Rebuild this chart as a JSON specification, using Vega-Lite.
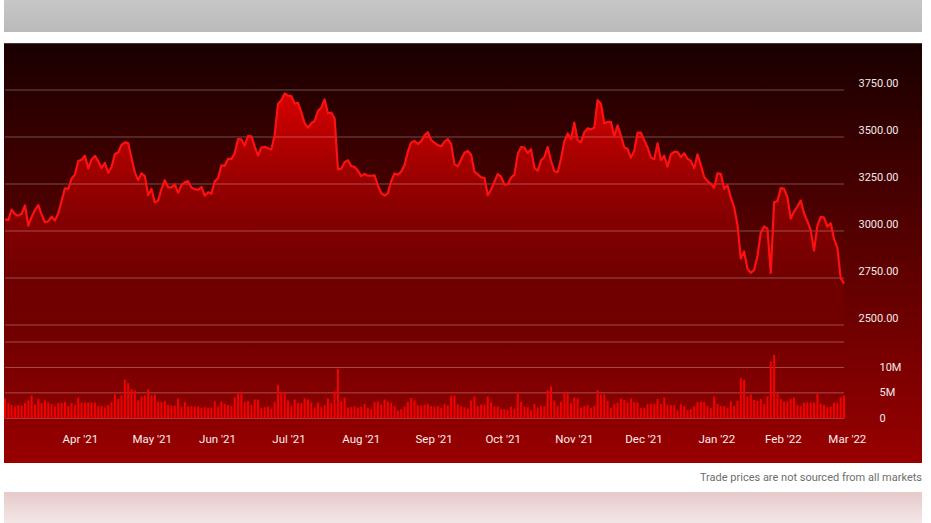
{
"$schema": "https://vega.github.io/schema/vega-lite/v6.json",
"width": 931, "height": 523,
"autosize": {"type": "fit", "contains": "padding"},
"padding": {"left": 2, "right": 9, "top": 0, "bottom": 0},
"background": "#ffffff",
"view": {"stroke": null},
"title": {"text": "Trade prices are not sourced from all markets", "orient": "bottom", "anchor": "end", "offset": -45, "baseline": "middle", "font": "Roboto", "fontSize": 11, "fontWeight": "normal", "color": "#6e6e6e"},
"datasets": {
"bg": [{"panel": "chart"}],
"months": [
{"date":"2021-04-01","label":"Apr '21"},{"date":"2021-05-03","label":"May '21"},{"date":"2021-06-01","label":"Jun '21"},
{"date":"2021-07-01","label":"Jul '21"},{"date":"2021-08-02","label":"Aug '21"},{"date":"2021-09-01","label":"Sep '21"},
{"date":"2021-10-01","label":"Oct '21"},{"date":"2021-11-01","label":"Nov '21"},{"date":"2021-12-01","label":"Dec '21"},
{"date":"2022-01-03","label":"Jan '22"},{"date":"2022-02-01","label":"Feb '22"},{"date":"2022-03-01","label":"Mar '22"}],
"prices": [
{"date":"2021-03-09","close":3062.85,"volume":3900000},
{"date":"2021-03-10","close":3057.64,"volume":3000000},
{"date":"2021-03-11","close":3113.59,"volume":2600000},
{"date":"2021-03-12","close":3089.49,"volume":2300000},
{"date":"2021-03-15","close":3081.68,"volume":2600000},
{"date":"2021-03-16","close":3091.86,"volume":2500000},
{"date":"2021-03-17","close":3135.73,"volume":3000000},
{"date":"2021-03-18","close":3027.99,"volume":3500000},
{"date":"2021-03-19","close":3074.96,"volume":4500000},
{"date":"2021-03-22","close":3110.87,"volume":2700000},
{"date":"2021-03-23","close":3137.50,"volume":3800000},
{"date":"2021-03-24","close":3087.07,"volume":3000000},
{"date":"2021-03-25","close":3046.26,"volume":3500000},
{"date":"2021-03-26","close":3052.03,"volume":3100000},
{"date":"2021-03-29","close":3075.73,"volume":2800000},
{"date":"2021-03-30","close":3055.29,"volume":2300000},
{"date":"2021-03-31","close":3094.08,"volume":3000000},
{"date":"2021-04-01","close":3161.00,"volume":3000000},
{"date":"2021-04-05","close":3226.73,"volume":3200000},
{"date":"2021-04-06","close":3223.82,"volume":2400000},
{"date":"2021-04-07","close":3279.39,"volume":3000000},
{"date":"2021-04-08","close":3299.30,"volume":2600000},
{"date":"2021-04-09","close":3372.20,"volume":4100000},
{"date":"2021-04-12","close":3379.39,"volume":3100000},
{"date":"2021-04-13","close":3400.00,"volume":3100000},
{"date":"2021-04-14","close":3333.00,"volume":3100000},
{"date":"2021-04-15","close":3379.09,"volume":3100000},
{"date":"2021-04-16","close":3399.44,"volume":3100000},
{"date":"2021-04-19","close":3372.01,"volume":2400000},
{"date":"2021-04-20","close":3334.69,"volume":2400000},
{"date":"2021-04-21","close":3362.02,"volume":2100000},
{"date":"2021-04-22","close":3309.04,"volume":2600000},
{"date":"2021-04-23","close":3340.88,"volume":3200000},
{"date":"2021-04-26","close":3409.00,"volume":4700000},
{"date":"2021-04-27","close":3417.43,"volume":3800000},
{"date":"2021-04-28","close":3458.50,"volume":4500000},
{"date":"2021-04-29","close":3471.31,"volume":7600000},
{"date":"2021-04-30","close":3467.42,"volume":6900000},
{"date":"2021-05-03","close":3386.49,"volume":5700000},
{"date":"2021-05-04","close":3311.87,"volume":5400000},
{"date":"2021-05-05","close":3270.54,"volume":3500000},
{"date":"2021-05-06","close":3306.37,"volume":4300000},
{"date":"2021-05-07","close":3291.61,"volume":4500000},
{"date":"2021-05-10","close":3190.49,"volume":5700000},
{"date":"2021-05-11","close":3223.91,"volume":4500000},
{"date":"2021-05-12","close":3151.94,"volume":4700000},
{"date":"2021-05-13","close":3161.47,"volume":3300000},
{"date":"2021-05-14","close":3222.90,"volume":3200000},
{"date":"2021-05-17","close":3270.39,"volume":3400000},
{"date":"2021-05-18","close":3232.28,"volume":2600000},
{"date":"2021-05-19","close":3231.80,"volume":2500000},
{"date":"2021-05-20","close":3247.68,"volume":2500000},
{"date":"2021-05-21","close":3203.08,"volume":3900000},
{"date":"2021-05-24","close":3244.99,"volume":2300000},
{"date":"2021-05-25","close":3259.05,"volume":3200000},
{"date":"2021-05-26","close":3265.16,"volume":2300000},
{"date":"2021-05-27","close":3230.11,"volume":2400000},
{"date":"2021-05-28","close":3223.07,"volume":2300000},
{"date":"2021-06-01","close":3218.65,"volume":2300000},
{"date":"2021-06-02","close":3233.99,"volume":2000000},
{"date":"2021-06-03","close":3187.01,"volume":2200000},
{"date":"2021-06-04","close":3206.22,"volume":2100000},
{"date":"2021-06-07","close":3198.01,"volume":2100000},
{"date":"2021-06-08","close":3264.11,"volume":3300000},
{"date":"2021-06-09","close":3281.15,"volume":2300000},
{"date":"2021-06-10","close":3349.65,"volume":3300000},
{"date":"2021-06-11","close":3346.83,"volume":2800000},
{"date":"2021-06-14","close":3383.87,"volume":2600000},
{"date":"2021-06-15","close":3383.13,"volume":2400000},
{"date":"2021-06-16","close":3415.25,"volume":4100000},
{"date":"2021-06-17","close":3489.24,"volume":4900000},
{"date":"2021-06-18","close":3486.90,"volume":5100000},
{"date":"2021-06-21","close":3453.96,"volume":3200000},
{"date":"2021-06-22","close":3505.44,"volume":3400000},
{"date":"2021-06-23","close":3503.82,"volume":2600000},
{"date":"2021-06-24","close":3449.08,"volume":3700000},
{"date":"2021-06-25","close":3401.46,"volume":3700000},
{"date":"2021-06-28","close":3443.89,"volume":2000000},
{"date":"2021-06-29","close":3448.14,"volume":2200000},
{"date":"2021-06-30","close":3440.16,"volume":2300000},
{"date":"2021-07-01","close":3432.97,"volume":1900000},
{"date":"2021-07-02","close":3510.98,"volume":3200000},
{"date":"2021-07-06","close":3675.74,"volume":6500000},
{"date":"2021-07-07","close":3696.58,"volume":5100000},
{"date":"2021-07-08","close":3731.41,"volume":5100000},
{"date":"2021-07-09","close":3719.34,"volume":3500000},
{"date":"2021-07-12","close":3718.55,"volume":2400000},
{"date":"2021-07-13","close":3677.36,"volume":3700000},
{"date":"2021-07-14","close":3681.68,"volume":3000000},
{"date":"2021-07-15","close":3631.20,"volume":3000000},
{"date":"2021-07-16","close":3573.63,"volume":3900000},
{"date":"2021-07-19","close":3549.59,"volume":3700000},
{"date":"2021-07-20","close":3573.19,"volume":3100000},
{"date":"2021-07-21","close":3585.20,"volume":2100000},
{"date":"2021-07-22","close":3638.03,"volume":3100000},
{"date":"2021-07-23","close":3656.64,"volume":2200000},
{"date":"2021-07-26","close":3699.82,"volume":2600000},
{"date":"2021-07-27","close":3626.39,"volume":3900000},
{"date":"2021-07-28","close":3630.32,"volume":3000000},
{"date":"2021-07-29","close":3599.92,"volume":5300000},
{"date":"2021-07-30","close":3327.59,"volume":9700000},
{"date":"2021-08-02","close":3331.48,"volume":3300000},
{"date":"2021-08-03","close":3366.24,"volume":4100000},
{"date":"2021-08-04","close":3375.99,"volume":2100000},
{"date":"2021-08-05","close":3344.94,"volume":2200000},
{"date":"2021-08-06","close":3341.87,"volume":2300000},
{"date":"2021-08-09","close":3320.68,"volume":2100000},
{"date":"2021-08-10","close":3292.11,"volume":2300000},
{"date":"2021-08-11","close":3303.50,"volume":2800000},
{"date":"2021-08-12","close":3293.97,"volume":2000000},
{"date":"2021-08-13","close":3293.97,"volume":1800000},
{"date":"2021-08-16","close":3296.00,"volume":3200000},
{"date":"2021-08-17","close":3241.96,"volume":3300000},
{"date":"2021-08-18","close":3201.22,"volume":2700000},
{"date":"2021-08-19","close":3187.75,"volume":3700000},
{"date":"2021-08-20","close":3199.95,"volume":3300000},
{"date":"2021-08-23","close":3265.87,"volume":3100000},
{"date":"2021-08-24","close":3305.78,"volume":2400000},
{"date":"2021-08-25","close":3299.18,"volume":1500000},
{"date":"2021-08-26","close":3316.00,"volume":1800000},
{"date":"2021-08-27","close":3349.63,"volume":2300000},
{"date":"2021-08-30","close":3421.57,"volume":3200000},
{"date":"2021-08-31","close":3470.79,"volume":4000000},
{"date":"2021-09-01","close":3479.00,"volume":3500000},
{"date":"2021-09-02","close":3463.12,"volume":2600000},
{"date":"2021-09-03","close":3478.05,"volume":2500000},
{"date":"2021-09-07","close":3509.29,"volume":2700000},
{"date":"2021-09-08","close":3525.50,"volume":2800000},
{"date":"2021-09-09","close":3484.16,"volume":2400000},
{"date":"2021-09-10","close":3469.15,"volume":2300000},
{"date":"2021-09-13","close":3457.17,"volume":2400000},
{"date":"2021-09-14","close":3450.00,"volume":2000000},
{"date":"2021-09-15","close":3475.79,"volume":2800000},
{"date":"2021-09-16","close":3488.24,"volume":2500000},
{"date":"2021-09-17","close":3462.52,"volume":4500000},
{"date":"2021-09-20","close":3355.73,"volume":4500000},
{"date":"2021-09-21","close":3343.63,"volume":2700000},
{"date":"2021-09-22","close":3380.05,"volume":2300000},
{"date":"2021-09-23","close":3416.00,"volume":2200000},
{"date":"2021-09-24","close":3425.52,"volume":1900000},
{"date":"2021-09-27","close":3405.80,"volume":3500000},
{"date":"2021-09-28","close":3315.96,"volume":4300000},
{"date":"2021-09-29","close":3301.12,"volume":2400000},
{"date":"2021-09-30","close":3285.04,"volume":2700000},
{"date":"2021-10-01","close":3283.26,"volume":2700000},
{"date":"2021-10-04","close":3189.78,"volume":4300000},
{"date":"2021-10-05","close":3221.00,"volume":3200000},
{"date":"2021-10-06","close":3262.01,"volume":2300000},
{"date":"2021-10-07","close":3302.43,"volume":2300000},
{"date":"2021-10-08","close":3288.62,"volume":1800000},
{"date":"2021-10-11","close":3246.30,"volume":1800000},
{"date":"2021-10-12","close":3247.33,"volume":1600000},
{"date":"2021-10-13","close":3284.28,"volume":2300000},
{"date":"2021-10-14","close":3299.86,"volume":1900000},
{"date":"2021-10-15","close":3409.02,"volume":5100000},
{"date":"2021-10-18","close":3446.74,"volume":3200000},
{"date":"2021-10-19","close":3444.15,"volume":2300000},
{"date":"2021-10-20","close":3415.06,"volume":2200000},
{"date":"2021-10-21","close":3435.01,"volume":1600000},
{"date":"2021-10-22","close":3335.55,"volume":2800000},
{"date":"2021-10-25","close":3320.37,"volume":2100000},
{"date":"2021-10-26","close":3376.07,"volume":2400000},
{"date":"2021-10-27","close":3392.49,"volume":2400000},
{"date":"2021-10-28","close":3446.57,"volume":5500000},
{"date":"2021-10-29","close":3372.43,"volume":6300000},
{"date":"2021-11-01","close":3318.11,"volume":3500000},
{"date":"2021-11-02","close":3312.75,"volume":2400000},
{"date":"2021-11-03","close":3384.00,"volume":3300000},
{"date":"2021-11-04","close":3477.00,"volume":5100000},
{"date":"2021-11-05","close":3518.99,"volume":4900000},
{"date":"2021-11-08","close":3488.98,"volume":3000000},
{"date":"2021-11-09","close":3576.23,"volume":4100000},
{"date":"2021-11-10","close":3482.05,"volume":3900000},
{"date":"2021-11-11","close":3472.50,"volume":2100000},
{"date":"2021-11-12","close":3525.15,"volume":2400000},
{"date":"2021-11-15","close":3545.68,"volume":2600000},
{"date":"2021-11-16","close":3540.70,"volume":2000000},
{"date":"2021-11-17","close":3549.00,"volume":2400000},
{"date":"2021-11-18","close":3696.06,"volume":5500000},
{"date":"2021-11-19","close":3676.57,"volume":4700000},
{"date":"2021-11-22","close":3572.57,"volume":4700000},
{"date":"2021-11-23","close":3580.04,"volume":3400000},
{"date":"2021-11-24","close":3580.41,"volume":2000000},
{"date":"2021-11-26","close":3504.56,"volume":2800000},
{"date":"2021-11-29","close":3561.57,"volume":3100000},
{"date":"2021-11-30","close":3507.07,"volume":3900000},
{"date":"2021-12-01","close":3443.72,"volume":3600000},
{"date":"2021-12-02","close":3437.36,"volume":3100000},
{"date":"2021-12-03","close":3389.79,"volume":3900000},
{"date":"2021-12-06","close":3427.37,"volume":3200000},
{"date":"2021-12-07","close":3523.16,"volume":3100000},
{"date":"2021-12-08","close":3523.29,"volume":2000000},
{"date":"2021-12-09","close":3483.42,"volume":2000000},
{"date":"2021-12-10","close":3444.24,"volume":2800000},
{"date":"2021-12-13","close":3391.35,"volume":2800000},
{"date":"2021-12-14","close":3381.83,"volume":2800000},
{"date":"2021-12-15","close":3466.30,"volume":3800000},
{"date":"2021-12-16","close":3377.42,"volume":2800000},
{"date":"2021-12-17","close":3400.35,"volume":4100000},
{"date":"2021-12-20","close":3341.58,"volume":2600000},
{"date":"2021-12-21","close":3408.34,"volume":2600000},
{"date":"2021-12-22","close":3420.74,"volume":2600000},
{"date":"2021-12-23","close":3421.37,"volume":1600000},
{"date":"2021-12-27","close":3393.39,"volume":2800000},
{"date":"2021-12-28","close":3413.22,"volume":2400000},
{"date":"2021-12-29","close":3384.02,"volume":1600000},
{"date":"2021-12-30","close":3372.89,"volume":1800000},
{"date":"2021-12-31","close":3334.34,"volume":2400000},
{"date":"2022-01-03","close":3408.09,"volume":3200000},
{"date":"2022-01-04","close":3350.44,"volume":3300000},
{"date":"2022-01-05","close":3287.14,"volume":3200000},
{"date":"2022-01-06","close":3265.08,"volume":2400000},
{"date":"2022-01-07","close":3251.08,"volume":2000000},
{"date":"2022-01-10","close":3229.72,"volume":4300000},
{"date":"2022-01-11","close":3307.24,"volume":2800000},
{"date":"2022-01-12","close":3304.14,"volume":2400000},
{"date":"2022-01-13","close":3224.28,"volume":2400000},
{"date":"2022-01-14","close":3242.76,"volume":2000000},
{"date":"2022-01-18","close":3178.35,"volume":3300000},
{"date":"2022-01-19","close":3125.98,"volume":2400000},
{"date":"2022-01-20","close":3033.35,"volume":3400000},
{"date":"2022-01-21","close":2852.86,"volume":7900000},
{"date":"2022-01-24","close":2890.88,"volume":7600000},
{"date":"2022-01-25","close":2799.72,"volume":4300000},
{"date":"2022-01-26","close":2777.45,"volume":4700000},
{"date":"2022-01-27","close":2792.75,"volume":3600000},
{"date":"2022-01-28","close":2865.00,"volume":3400000},
{"date":"2022-01-31","close":2991.47,"volume":3800000},
{"date":"2022-02-01","close":3023.87,"volume":2800000},
{"date":"2022-02-02","close":3012.25,"volume":4300000},
{"date":"2022-02-03","close":2776.91,"volume":11200000},
{"date":"2022-02-04","close":3152.79,"volume":12500000},
{"date":"2022-02-07","close":3158.71,"volume":4900000},
{"date":"2022-02-08","close":3228.27,"volume":3800000},
{"date":"2022-02-09","close":3223.79,"volume":3300000},
{"date":"2022-02-10","close":3180.07,"volume":3300000},
{"date":"2022-02-11","close":3065.87,"volume":3800000},
{"date":"2022-02-14","close":3103.34,"volume":4100000},
{"date":"2022-02-15","close":3130.21,"volume":2600000},
{"date":"2022-02-16","close":3162.01,"volume":2400000},
{"date":"2022-02-17","close":3093.05,"volume":3100000},
{"date":"2022-02-18","close":3052.03,"volume":3100000},
{"date":"2022-02-22","close":3003.95,"volume":3100000},
{"date":"2022-02-23","close":2896.54,"volume":3100000},
{"date":"2022-02-24","close":3027.16,"volume":4900000},
{"date":"2022-02-25","close":3075.77,"volume":2800000},
{"date":"2022-02-28","close":3071.26,"volume":2600000},
{"date":"2022-03-01","close":3022.84,"volume":2200000},
{"date":"2022-03-02","close":3041.05,"volume":2300000},
{"date":"2022-03-03","close":2957.97,"volume":3100000},
{"date":"2022-03-04","close":2912.82,"volume":3000000},
{"date":"2022-03-07","close":2749.35,"volume":4100000},
{"date":"2022-03-08","close":2720.29,"volume":4500000}
],
"pgrid": [
{"date":"2021-03-09","level":2500},{"date":"2022-03-08","level":2500},
{"date":"2021-03-09","level":2750},{"date":"2022-03-08","level":2750},
{"date":"2021-03-09","level":3000},{"date":"2022-03-08","level":3000},
{"date":"2021-03-09","level":3250},{"date":"2022-03-08","level":3250},
{"date":"2021-03-09","level":3500},{"date":"2022-03-08","level":3500},
{"date":"2021-03-09","level":3750},{"date":"2022-03-08","level":3750}],
"vgrid": [
{"date":"2021-03-09","level":0},{"date":"2022-03-08","level":0},
{"date":"2021-03-09","level":5000000},{"date":"2022-03-08","level":5000000},
{"date":"2021-03-09","level":10000000},{"date":"2022-03-08","level":10000000},
{"date":"2021-03-09","level":15000000},{"date":"2022-03-08","level":15000000}]
},
"layer": [
  {"data": {"name": "bg"},
   "mark": {"type": "rect", "fill": {"gradient": "linear", "x1": 0, "y1": 0, "x2": 0, "y2": 1, "stops": [
     {"offset": 0, "color": "#c7c7c7"}, {"offset": 0.0612, "color": "#bbbaba"},
     {"offset": 0.0612, "color": "#ffffff"}, {"offset": 0.0822, "color": "#ffffff"},
     {"offset": 0.0822, "color": "#4a3838"}, {"offset": 0.0841, "color": "#4a3838"},
     {"offset": 0.0841, "color": "#1a0000"}, {"offset": 0.8853, "color": "#990000"},
     {"offset": 0.8853, "color": "#ffffff"}, {"offset": 0.9407, "color": "#ffffff"},
     {"offset": 0.9407, "color": "#e7c9c9"}, {"offset": 1, "color": "#f3e7e7"}]}},
   "encoding": {}},
  {"data": {"name": "prices"},
   "mark": {"type": "area", "color": {"gradient": "linear", "x1": 0, "y1": 0, "x2": 0, "y2": 1, "stops": [
     {"offset": 0, "color": "rgba(255,0,0,0.82)"}, {"offset": 0.5, "color": "rgba(255,0,0,0.32)"},
     {"offset": 0.8, "color": "rgba(255,0,0,0.08)"}, {"offset": 1, "color": "rgba(255,0,0,0)"}]}},
   "encoding": {
     "x": {"field": "date", "type": "ordinal", "axis": null},
     "y": {"field": "close", "type": "quantitative", "scale": {"domain": [1446.8, 4228.7], "nice": false, "zero": false}, "axis": null},
     "y2": {"datum": 2450}
   }},
  {"data": {"name": "pgrid"},
   "mark": {"type": "line", "color": "#ffffff", "opacity": 0.3, "strokeWidth": 1},
   "encoding": {
     "x": {"field": "date", "type": "ordinal", "axis": null},
     "y": {"field": "level", "type": "quantitative", "scale": {"domain": [1446.8, 4228.7], "nice": false, "zero": false}, "axis": null},
     "detail": {"field": "level", "type": "nominal"}
   }},
  {"data": {"name": "prices"},
   "mark": {"type": "line", "color": "#ff1010", "strokeWidth": 2.2, "strokeJoin": "round"},
   "encoding": {
     "x": {"field": "date", "type": "ordinal", "axis": null},
     "y": {"field": "close", "type": "quantitative", "scale": {"domain": [1446.8, 4228.7], "nice": false, "zero": false},
       "axis": {"orient": "right", "offset": -64, "zindex": 2, "values": [2500, 2750, 3000, 3250, 3500, 3750], "format": ".2f", "title": null, "grid": false, "domain": false, "ticks": false, "labelPadding": 0, "labelAlign": "left", "labelBaseline": "middle", "labelOffset": -6, "labelFont": "Roboto", "labelFontSize": 11, "labelColor": "#f2eaea", "labelOverlap": false, "labelBound": false}}
   }},
  {"data": {"name": "vgrid"},
   "mark": {"type": "line", "color": "#ffffff", "opacity": 0.3, "strokeWidth": 1},
   "encoding": {
     "x": {"field": "date", "type": "ordinal", "axis": null},
     "y": {"field": "level", "type": "quantitative", "scale": {"domain": [-20580000, 82230000], "nice": false, "zero": false}, "axis": null},
     "detail": {"field": "level", "type": "nominal"}
   }},
  {"data": {"name": "prices"},
   "mark": {"type": "bar", "color": "#f50000"},
   "encoding": {
     "x": {"field": "date", "type": "ordinal", "scale": {"type": "band", "range": [0, 841], "paddingInner": 0.4, "paddingOuter": 0}, "axis": null},
     "y": {"field": "volume", "type": "quantitative", "scale": {"domain": [-20580000, 82230000], "nice": false, "zero": false},
       "axis": {"orient": "right", "offset": -43, "zindex": 2, "values": [0, 5000000, 10000000], "labelExpr": "datum.value == 0 ? '0' : (datum.value / 1000000) + 'M'", "title": null, "grid": false, "domain": false, "ticks": false, "labelPadding": 0, "labelAlign": "left", "labelBaseline": "middle", "labelFont": "Roboto", "labelFontSize": 11, "labelColor": "#f2eaea", "labelOverlap": false, "labelBound": false}},
     "y2": {"datum": 0}
   }},
  {"data": {"name": "months"},
   "mark": {"type": "text", "align": "left", "baseline": "middle", "dx": 1, "font": "Roboto", "fontSize": 11.5, "color": "#f7eeee"},
   "encoding": {
     "x": {"field": "date", "type": "ordinal", "axis": null},
     "y": {"datum": -4300000, "type": "quantitative", "scale": {"domain": [-20580000, 82230000], "nice": false, "zero": false}, "axis": null},
     "text": {"field": "label", "type": "nominal"}
   }}
],
"resolve": {"scale": {"y": "independent"}, "axis": {"y": "independent"}},
"config": {"font": "Roboto"}
}
